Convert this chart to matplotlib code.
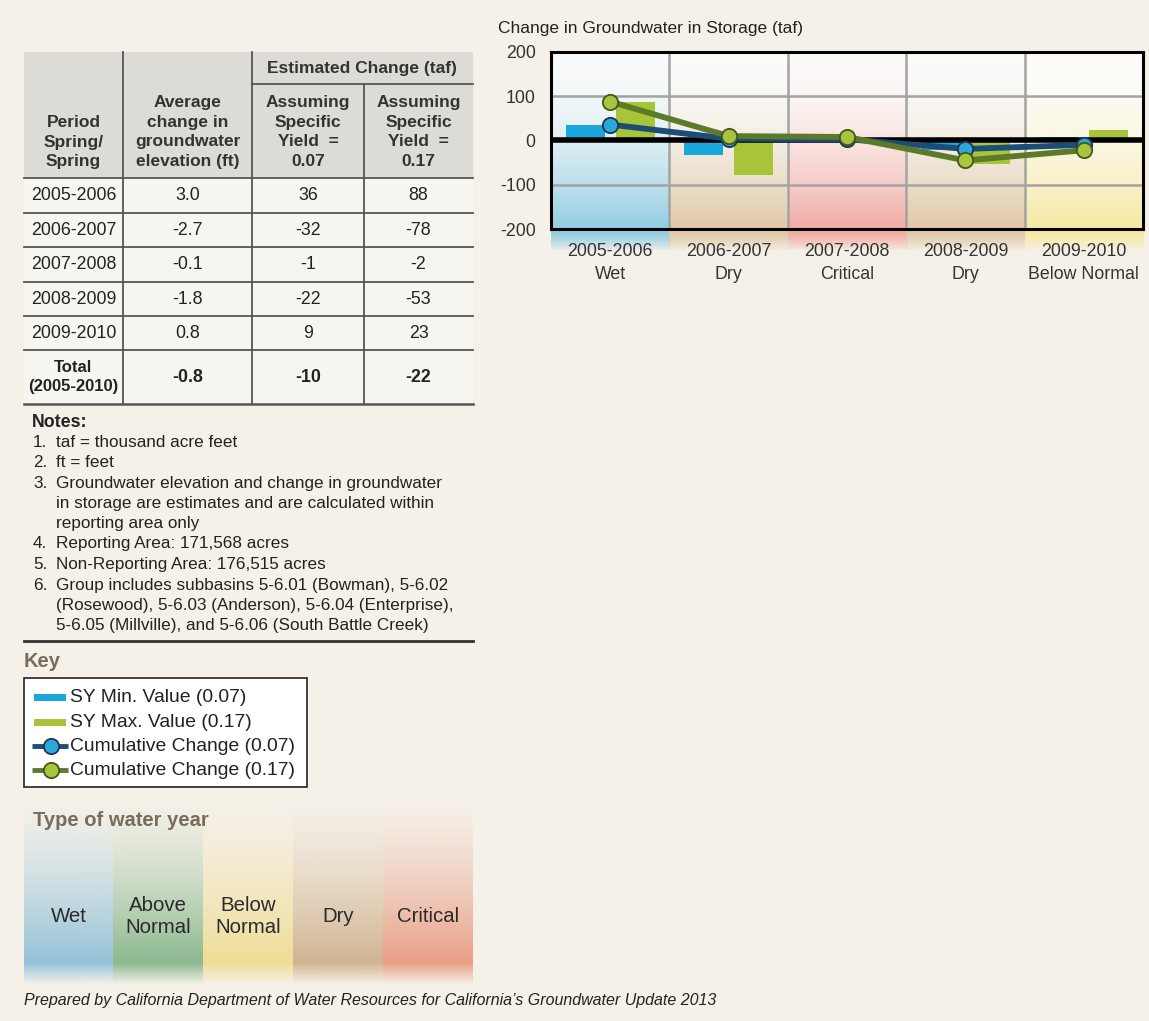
import numpy as np
import matplotlib
matplotlib.use("Agg")
import matplotlib.pyplot as plt
from matplotlib.patches import Rectangle
from matplotlib.colors import to_rgb

# ---------------- data ----------------
periods = ["2005-2006", "2006-2007", "2007-2008", "2008-2009", "2009-2010"]
year_types = ["Wet", "Dry", "Critical", "Dry", "Below Normal"]
avg_change_ft = ["3.0", "-2.7", "-0.1", "-1.8", "0.8"]
sy_min_change = [36, -32, -1, -22, 9]
sy_max_change = [88, -78, -2, -53, 23]
total_row = ["-0.8", "-10", "-22"]
cum_min = [36, 4, 3, -19, -10]
cum_max = [88, 10, 8, -45, -22]
y_ticks = [-200, -100, 0, 100, 200]

notes = [
    ("1.", ["taf = thousand acre feet"]),
    ("2.", ["ft = feet"]),
    ("3.", ["Groundwater elevation and change in groundwater",
            "in storage are estimates and are calculated within",
            "reporting area only"]),
    ("4.", ["Reporting Area: 171,568 acres"]),
    ("5.", ["Non-Reporting Area: 176,515 acres"]),
    ("6.", ["Group includes subbasins 5-6.01 (Bowman), 5-6.02",
            "(Rosewood), 5-6.03 (Anderson), 5-6.04 (Enterprise),",
            "5-6.05 (Millville), and 5-6.06 (South Battle Creek)"]),
]
key_labels = ["SY Min. Value (0.07)", "SY Max. Value (0.17)",
              "Cumulative Change (0.07)", "Cumulative Change (0.17)"]
wy_labels = ["Wet", "Above\nNormal", "Below\nNormal", "Dry", "Critical"]

# ---------------- style ----------------
FONT = ["Liberation Sans Narrow", "Liberation Sans", "DejaVu Sans"]
WIDE = ["Liberation Sans", "DejaVu Sans"]
plt.rcParams["font.family"] = FONT
BG = "#f5f1e9"
TXT = "#222222"
BLUE_BAR = "#1aa7dd"
GREEN_BAR = "#a8c53a"
BLUE_LINE = "#1c4d78"
GREEN_LINE = "#5d7a2b"
BLUE_MK = "#2aa8dc"
GREEN_MK = "#a9c53d"
type_colors = {"Wet": "#86c8df", "Dry": "#dcc39f", "Critical": "#f0a39c",
               "Below Normal": "#f5e79a", "Above Normal": "#86b68a"}
wy_colors = ["#8fc0d8", "#86b68a", "#efdc92", "#cfb18c", "#e99a80"]

W, H = 1149, 1021
fig = plt.figure(figsize=(W / 100, H / 100), dpi=100, facecolor=BG)

# background axes in pixel coordinates
bg = fig.add_axes([0, 0, 1, 1], zorder=0)
bg.set_xlim(0, W)
bg.set_ylim(H, 0)
bg.axis("off")
bg.set_facecolor(BG)


def vgrad(ax, x0, x1, ytop, ybot, color, alphas, **kw):
    rgba = np.zeros((len(alphas), 1, 4))
    rgba[:, 0, :3] = to_rgb(color)
    rgba[:, 0, 3] = alphas
    ax.imshow(rgba, extent=(x0, x1, ybot, ytop), origin="upper",
              aspect="auto", interpolation="bilinear", **kw)


# ---------------- table ----------------
cx = [24, 123, 252, 364, 473]
ry = [52, 178, 213, 247, 282, 316, 350, 404]
bg.add_patch(Rectangle((24, 52), 449, 126, facecolor="#dddbd6", edgecolor="none"))
bg.add_patch(Rectangle((24, 178), 449, 226, facecolor="#f7f5f0", edgecolor="none"))
lc = "#555555"
for y in ry[1:-1]:
    bg.plot([24, 473], [y, y], color=lc, lw=1.3)
bg.plot([24, 473], [ry[-1], ry[-1]], color=lc, lw=1.8)
bg.plot([252, 473], [84, 84], color=lc, lw=1.3)
bg.plot([123, 123], [52, 404], color=lc, lw=1.3)
bg.plot([252, 252], [52, 404], color=lc, lw=1.3)
bg.plot([364, 364], [84, 404], color=lc, lw=1.3)

hfs = 12.5
HC = "#333333"
LS = 1.38
bg.text(362, 69, "Estimated Change (taf)", ha="center", va="center",
        fontsize=hfs, fontweight="bold", color=HC)
bg.text(73.5, 142, "Period\nSpring/\nSpring", ha="center", va="center",
        fontsize=hfs, fontweight="bold", color=HC, linespacing=LS)
bg.text(187.5, 132, "Average\nchange in\ngroundwater\nelevation (ft)", ha="center",
        va="center", fontsize=hfs, fontweight="bold", color=HC, linespacing=LS)
bg.text(308, 132, "Assuming\nSpecific\nYield  =\n0.07", ha="center", va="center",
        fontsize=hfs, fontweight="bold", color=HC, linespacing=LS)
bg.text(418.5, 132, "Assuming\nSpecific\nYield  =\n0.17", ha="center", va="center",
        fontsize=hfs, fontweight="bold", color=HC, linespacing=LS)

centers_x = [(cx[i] + cx[i + 1]) / 2 for i in range(4)]
for i, p in enumerate(periods):
    yc = (ry[i + 1] + ry[i + 2]) / 2
    row = [p, avg_change_ft[i], str(sy_min_change[i]), str(sy_max_change[i])]
    for j, val in enumerate(row):
        bg.text(centers_x[j], yc, val, ha="center", va="center", fontsize=12.8, color=TXT)
yc = (ry[6] + ry[7]) / 2
bg.text(centers_x[0], yc, "Total\n(2005-2010)", ha="center", va="center",
        fontsize=12, fontweight="bold", color=TXT, linespacing=1.3)
for j, val in enumerate(total_row):
    bg.text(centers_x[j + 1], yc, val, ha="center", va="center",
            fontsize=12.8, fontweight="bold", color=TXT)

# ---------------- notes ----------------
nfs = 12.3
bg.text(32, 422, "Notes:", ha="left", va="center", fontsize=12.8, fontweight="bold", color=TXT)
ny = [442, 462, 483, 543, 564, 585]
for (num, lines), y0 in zip(notes, ny):
    bg.text(33, y0, num, ha="left", va="center", fontsize=nfs, color=TXT)
    for k, ln in enumerate(lines):
        bg.text(56, y0 + k * 20.3, ln, ha="left", va="center", fontsize=nfs, color=TXT)
bg.plot([24, 473], [641, 641], color="#333333", lw=2)

# ---------------- key ----------------
KEYC = "#786c5a"
bg.text(24, 661, "Key", ha="left", va="center", fontsize=14.5, fontweight="bold",
        color=KEYC, family=WIDE)
bg.add_patch(Rectangle((24, 678), 283, 109, facecolor="white", edgecolor="#222222", lw=1.2))
ky = [697, 722, 746, 770]
bg.add_patch(Rectangle((34, ky[0] - 3.5), 32, 7, facecolor=BLUE_BAR, edgecolor="none"))
bg.add_patch(Rectangle((34, ky[1] - 3.5), 32, 7, facecolor=GREEN_BAR, edgecolor="none"))
bg.plot([32, 68], [ky[2], ky[2]], color=BLUE_LINE, lw=3.5, solid_capstyle="butt")
bg.plot([51], [ky[2]], "o", ms=11, mfc=BLUE_MK, mec="#1d3550", mew=1.3)
bg.plot([32, 68], [ky[3], ky[3]], color=GREEN_LINE, lw=3.5, solid_capstyle="butt")
bg.plot([51], [ky[3]], "o", ms=11, mfc=GREEN_MK, mec="#44561f", mew=1.3)
for lab, y in zip(key_labels, ky):
    bg.text(70, y, lab, ha="left", va="center", fontsize=13.9, color=TXT, family=WIDE)

# ---------------- water year types ----------------
bg.text(33, 820, "Type of water year", ha="left", va="center", fontsize=14.5,
        fontweight="bold", color=KEYC, family=WIDE)
wx = [24, 113, 203, 293, 383, 473]
ys = np.arange(795, 984)
al = np.where(ys < 962, ((ys - 795) / (962 - 795)) ** 1.4,
              np.clip((984 - ys) / 22.0, 0, 1))
for i in range(5):
    vgrad(bg, wx[i], wx[i + 1], 795, 984, wy_colors[i], al * 0.95, zorder=1)
    bg.text((wx[i] + wx[i + 1]) / 2, 916, wy_labels[i], ha="center", va="center",
            fontsize=14.7, color="#2a2a2a", linespacing=1.2, zorder=3, family=WIDE)

bg.text(24, 1000, "Prepared by California Department of Water Resources for "
        "California\u2019s Groundwater Update 2013", ha="left", va="center",
        fontsize=11.5, style="italic", color=TXT, family=WIDE)

# ---------------- chart ----------------
L, R, T, B = 551, 1143, 52, 229
ax = fig.add_axes([L / W, 1 - B / H, (R - L) / W, (B - T) / H], zorder=2)
ax.patch.set_alpha(0)
x = np.arange(len(periods))

yy = np.linspace(200, -200, 200)
tt = (200 - yy) / 400
inside_a = 0.02 + 0.88 * tt ** 1.8
yb = np.linspace(-200, -250, 40)
below_a = np.clip((-250 - yb) / (-250 + 212), 0, 1) ** 0.8
for i, t in enumerate(year_types):
    c = np.array(to_rgb(type_colors[t]))
    rgba = np.ones((len(yy), 1, 4))
    rgba[:, 0, :3] = (1 - inside_a[:, None]) * np.array([0.99, 0.99, 0.985]) + inside_a[:, None] * c
    ax.imshow(rgba, extent=(i - 0.5, i + 0.5, -200, 200), origin="upper",
              aspect="auto", interpolation="bilinear", zorder=0)
    rgba2 = np.ones((len(yb), 1, 4))
    rgba2[:, 0, :3] = 0.1 * np.array([1, 1, 1]) + 0.9 * c
    rgba2[:, 0, 3] = below_a
    ax.imshow(rgba2, extent=(i - 0.5, i + 0.5, -250, -200), origin="upper",
              aspect="auto", interpolation="bilinear", zorder=0, clip_on=False)

for yv in (100, -100):
    ax.axhline(yv, color="#a3a3a3", lw=1.8, zorder=1)
for xv in x[:-1] + 0.5:
    ax.axvline(xv, color="#a3a3a3", lw=1.8, zorder=1)

bw, off = 0.33, 0.21
ax.bar(x - off, sy_min_change, width=bw, color=BLUE_BAR, zorder=2)
ax.bar(x + off, sy_max_change, width=bw, color=GREEN_BAR, zorder=2)
ax.axhline(0, color="black", lw=4, zorder=3)

ax.plot(x, cum_min, color=BLUE_LINE, lw=4.2, zorder=4, marker="o", ms=11,
        mfc=BLUE_MK, mec="#1d3550", mew=1.3)
ax.plot(x, cum_max, color=GREEN_LINE, lw=4.2, zorder=5, marker="o", ms=11,
        mfc=GREEN_MK, mec="#44561f", mew=1.3)

ax.set_xlim(-0.5, len(periods) - 0.5)
ax.set_ylim(-200, 200)
ax.set_yticks(y_ticks)
ax.set_yticklabels([str(v) for v in y_ticks])
ax.set_xticks(x)
ax.set_xticklabels([f"{p}\n{t}" for p, t in zip(periods, year_types)], linespacing=1.5)
ax.tick_params(axis="both", length=0, labelsize=12.8, colors="#333333")
ax.tick_params(axis="y", pad=11)
ax.tick_params(axis="x", pad=10)
for s in ax.spines.values():
    s.set_color("black")
    s.set_linewidth(2.2)
    s.set_zorder(6)

fig.text(498 / W, 1 - 28 / H, "Change in Groundwater in Storage (taf)", ha="left",
         va="center", fontsize=12.5, color="#222222")

fig.savefig("out.png", dpi=100, facecolor=BG)
